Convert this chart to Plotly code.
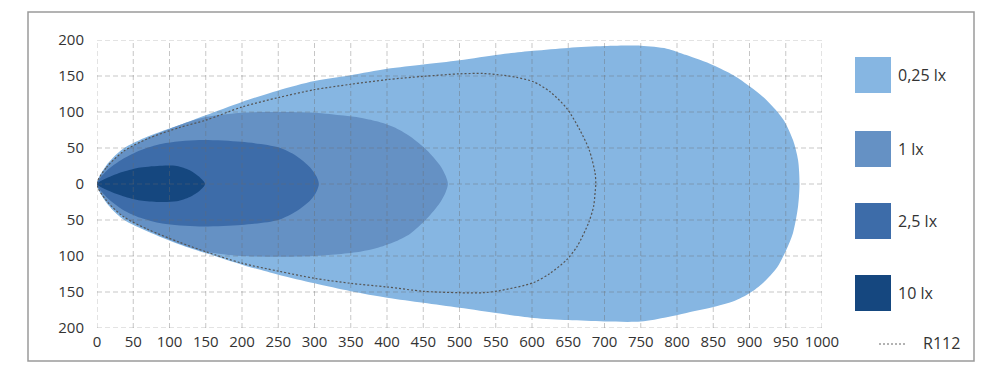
import plotly.graph_objects as go

# ---------------- data ----------------
x_ticks = [0, 50, 100, 150, 200, 250, 300, 350, 400, 450, 500, 550, 600, 650, 700, 750, 800, 850, 900, 950, 1000]
y_ticks = [-200, -150, -100, -50, 0, 50, 100, 150, 200]
y_tick_text = ["200", "150", "100", "50", "0", "50", "100", "150", "200"]

legend_labels = ["0,25 lx", "1 lx", "2,5 lx", "10 lx"]
legend_colors = ["#86b6e2", "#6591c4", "#3d6ca9", "#15477f"]
r112_label = "R112"

# 0,25 lx contour (closed, starts/ends at origin)
lx025_x = [0, 13, 36, 70, 114, 150, 200, 250, 300, 350, 400, 450, 500, 556, 602, 650, 700, 750, 786, 813, 850, 878, 901, 924, 947, 960, 967, 969,
           967, 960, 951, 938, 919, 901, 878, 850, 813, 786, 750, 700, 650, 602, 556, 500, 450, 400, 350, 300, 250, 200, 150, 114, 70, 36, 13, 0]
lx025_y = [0, 26, 49, 66, 82, 95.5, 114, 130, 143, 151, 160, 166, 172, 180, 185, 189, 191.5, 192, 188, 179, 165, 151, 135, 116, 89, 61, 33, 0,
           -31, -68, -91, -116, -137, -151, -163, -171, -179, -185, -191, -191, -189, -186, -180, -172, -165, -158, -149, -138, -126, -112, -96, -84, -66, -49, -26, 0]

# 1 lx contour
lx1_x = [0, 13, 36, 70, 114, 150, 200, 250, 300, 340, 363, 386, 409, 432, 455, 473, 481, 484,
         481, 473, 455, 432, 409, 386, 363, 300, 250, 200, 150, 114, 70, 36, 13, 0]
lx1_y = [0, 24, 45, 64, 82, 93, 99, 100, 99, 95, 92, 87, 79, 66, 47, 26, 11, 0,
         -11, -26, -48, -69, -81, -89, -94, -100, -101, -100, -94, -83, -64, -45, -24, 0]

# 2,5 lx contour
lx25_x = [0, 13, 36, 60, 90, 141, 199, 250, 275, 294, 303, 306,
          303, 294, 275, 250, 199, 141, 90, 60, 36, 13, 0]
lx25_y = [0, 18, 35, 47, 56, 61, 58.6, 51, 39, 23, 10, 0,
          -10, -23, -38, -50, -57, -59, -55, -47, -36, -18, 0]

# 10 lx contour
lx10_x = [0, 13, 36, 60, 90, 110, 128, 142, 149, 142, 128, 110, 85, 60, 36, 13, 0]
lx10_y = [0, 8, 17, 23, 25.5, 25, 19, 9, 0, -9, -18, -24, -25, -23, -17, -8, 0]

# R112 dotted contour
r112_x = [0, 13, 36, 70, 114, 150, 200, 250, 300, 350, 400, 450, 500, 533, 560, 579, 602, 625, 648, 666, 679, 687, 688,
          687, 685, 678, 662, 648, 625, 602, 556, 533, 500, 450, 400, 350, 300, 250, 200, 150, 114, 70, 36, 13, 0]
r112_y = [0, 23, 45, 63, 78.5, 88.6, 107, 120, 131, 138.5, 145, 149.5, 153, 153.5, 151, 148, 142, 128, 105, 75, 47, 15, 0,
          -12, -31, -54, -87, -105, -124, -137, -148, -151, -151, -149, -143, -138, -131, -121, -110, -94, -81, -63, -45, -23, 0]

# ---------------- figure ----------------
FONT = "Open Sans"
W, H = 1000, 375
ML, MR, MT, MB = 97, 178, 40, 47
PW, PH = W - ML - MR, H - MT - MB


def px_to_paper_x(px):
    return (px - ML) / PW


def py_to_paper_y(py):
    return (H - MB - py) / PH


fig = go.Figure()

contours = [(lx025_x, lx025_y), (lx1_x, lx1_y), (lx25_x, lx25_y), (lx10_x, lx10_y)]
for (cx, cy), name, col in zip(contours, legend_labels, legend_colors):
    fig.add_trace(go.Scatter(x=cx, y=cy, mode="lines", fill="toself", fillcolor=col,
                             line=dict(width=0, color=col, shape="spline", smoothing=0.8),
                             name=name, showlegend=False, hoverinfo="skip"))

# dashed grid drawn over the fills
gx, gy = [], []
for xv in x_ticks:
    gx += [xv, xv, None]
    gy += [y_ticks[0], y_ticks[-1], None]
for yv in y_ticks:
    gx += [x_ticks[0], x_ticks[-1], None]
    gy += [yv, yv, None]
fig.add_trace(go.Scatter(x=gx, y=gy, mode="lines", showlegend=False, hoverinfo="skip",
                         line=dict(color="rgba(105,105,105,0.38)", width=1, dash="5px,3px")))

# R112 dotted outline
fig.add_trace(go.Scatter(x=r112_x, y=r112_y, mode="lines", name=r112_label, showlegend=False,
                         line=dict(color="#555555", width=1.2, dash="2px,2px", shape="spline", smoothing=0.8),
                         hoverinfo="skip"))

shapes = []
annotations = []

# outer frame
shapes.append(dict(type="rect", xref="paper", yref="paper",
                   x0=px_to_paper_x(28), x1=px_to_paper_x(974),
                   y0=py_to_paper_y(361), y1=py_to_paper_y(12),
                   line=dict(color="#9a9a9a", width=1.5), fillcolor="rgba(0,0,0,0)", layer="below"))

# custom legend
centers = [75, 149, 221, 293]
for cy, lab, col in zip(centers, legend_labels, legend_colors):
    shapes.append(dict(type="rect", xref="paper", yref="paper",
                       x0=px_to_paper_x(855), x1=px_to_paper_x(891),
                       y0=py_to_paper_y(cy + 18), y1=py_to_paper_y(cy - 18),
                       line=dict(width=0), fillcolor=col))
    annotations.append(dict(xref="paper", yref="paper", x=px_to_paper_x(896), y=py_to_paper_y(cy),
                            text=lab, showarrow=False, xanchor="left", yanchor="middle",
                            font=dict(family=FONT, size=16, color="#333333")))

shapes.append(dict(type="line", xref="paper", yref="paper",
                   x0=px_to_paper_x(879), x1=px_to_paper_x(907),
                   y0=py_to_paper_y(344), y1=py_to_paper_y(344),
                   line=dict(color="#666666", width=1, dash="2px,2px")))
annotations.append(dict(xref="paper", yref="paper", x=px_to_paper_x(921), y=py_to_paper_y(343),
                        text=r112_label, showarrow=False, xanchor="left", yanchor="middle",
                        font=dict(family=FONT, size=16, color="#333333")))

fig.update_layout(
    width=W, height=H,
    margin=dict(l=ML, r=MR, t=MT, b=MB),
    paper_bgcolor="white", plot_bgcolor="white",
    showlegend=False,
    shapes=shapes, annotations=annotations,
    font=dict(family=FONT, size=15, color="#333333"),
    xaxis=dict(range=[0, 1000], tickvals=x_ticks, showgrid=False, zeroline=False,
               showline=False, ticks="", ticklabelstandoff=3,
               tickfont=dict(family=FONT, size=15, color="#333333"), fixedrange=True),
    yaxis=dict(range=[-200, 200], tickvals=y_ticks, ticktext=y_tick_text, showgrid=False,
               zeroline=False, showline=False, ticks="", ticklabelstandoff=12,
               tickfont=dict(family=FONT, size=15, color="#333333"), fixedrange=True),
)

fig.write_html("out.html")
